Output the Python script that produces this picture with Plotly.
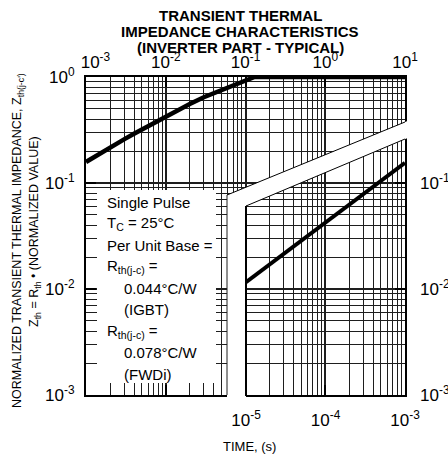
import plotly.graph_objects as go

# ---------------- data ----------------
main_t = [1e-3, 1.5e-3, 2e-3, 3e-3, 4e-3, 5e-3, 7e-3, 1e-2, 1.5e-2, 2e-2, 3e-2, 4e-2,
          5e-2, 7e-2, 0.1, 0.13, 1, 10]
main_z = [0.158, 0.191, 0.217, 0.258, 0.291, 0.319, 0.365, 0.42, 0.49, 0.555, 0.645, 0.705,
          0.758, 0.835, 0.915, 1.0, 1.0, 1.0]

inset_t = [1e-5, 3e-5, 1e-4, 3e-4, 1e-3]
inset_z = [0.0116, 0.0215, 0.042, 0.078, 0.155]

main_x_ticks = [1e-3, 1e-2, 1e-1, 1, 10]
main_x_text = ["\u00a0\u00a0\u00a0\u00a010<sup>-3</sup>", "10<sup>-2</sup>", "10<sup>-1</sup>",
               "10<sup>0</sup>", "10<sup>1</sup>"]
main_y_ticks = [1e-3, 1e-2, 1e-1, 1]
main_y_text = ["10<sup>-3</sup>", "10<sup>-2</sup>", "10<sup>-1</sup>", "10<sup>0</sup>"]
inset_x_ticks = [1e-5, 1e-4, 1e-3]
inset_x_text = ["10<sup>-5</sup>", "10<sup>-4</sup>", "10<sup>-3</sup>"]
inset_y_ticks = [1e-3, 1e-2, 1e-1]
inset_y_text = ["10<sup>-3</sup>", "10<sup>-2</sup>", "10<sup>-1</sup>"]

title_lines = ["TRANSIENT THERMAL", "IMPEDANCE CHARACTERISTICS", "(INVERTER PART - TYPICAL)"]
box_lines = [
    ("Single Pulse", 0), ("T<sub>C</sub> = 25°C", 0), ("Per Unit Base =", 0),
    ("R<sub>th(j-c)</sub> =", 0), ("0.044°C/W", 1), ("(IGBT)", 1),
    ("R<sub>th(j-c)</sub> =", 0), ("0.078°C/W", 1), ("(FWDi)", 1),
]

# ---------------- layout geometry (pixels) ----------------
W, H = 448, 456
L, R, T, B = 86, 405, 77, 395
FONT = "Liberation Sans, Arial, Helvetica, sans-serif"


def fx(px):
    return (px - L) / (R - L)


def fy(py):
    return (B - py) / (B - T)


inset_left = fx(246)


def minor_vals(d0, d1):
    out = []
    for d in range(d0, d1):
        for m in range(2, 10):
            out.append(m * 10 ** d)
    return out


fig = go.Figure()
fig.add_trace(go.Scatter(x=main_t, y=main_z, mode="lines",
                         line=dict(color="black", width=4.5), xaxis="x", yaxis="y",
                         showlegend=False, hoverinfo="skip"))
fig.add_trace(go.Scatter(x=inset_t, y=inset_z, mode="lines",
                         line=dict(color="black", width=4), xaxis="x2", yaxis="y2",
                         showlegend=False, hoverinfo="skip"))

grid_col = "#1e1e1e"
tickfont = dict(family=FONT, size=17, color="black")

fig.update_layout(
    width=W, height=H,
    margin=dict(l=L, r=W - R, t=T, b=H - B, pad=0, autoexpand=False),
    paper_bgcolor="white", plot_bgcolor="rgba(0,0,0,0)",
    font=dict(family=FONT, color="black"),
    showlegend=False,
    xaxis=dict(type="log", range=[-3, 1], side="top", domain=[0, 1], anchor="y",
               automargin=False,
               showline=True, linecolor="black", linewidth=2, mirror="ticks",
               ticks="inside", ticklen=10, tickwidth=2, tickcolor="black",
               tickvals=main_x_ticks, ticktext=main_x_text, tickfont=tickfont,
               showgrid=True, gridcolor=grid_col, gridwidth=1.6, zeroline=False,
               ticklabelstandoff=0,
               minor=dict(tickvals=minor_vals(-3, 1), showgrid=True,
                          gridcolor=grid_col, gridwidth=1, ticks="")),
    yaxis=dict(type="log", range=[-3, 0], domain=[0, 1], anchor="x",
               automargin=False,
               showline=True, linecolor="black", linewidth=2, mirror="ticks",
               ticks="inside", ticklen=10, tickwidth=2, tickcolor="black",
               tickvals=main_y_ticks, ticktext=main_y_text, tickfont=tickfont,
               showgrid=True, gridcolor=grid_col, gridwidth=1.6, zeroline=False,
               ticklabelstandoff=6,
               minor=dict(tickvals=minor_vals(-3, 0), showgrid=True,
                          gridcolor=grid_col, gridwidth=1, ticks="")),
    xaxis2=dict(type="log", range=[-5, -3], domain=[inset_left, 1], anchor="y2",
                automargin=False,
                side="bottom", showline=False, showgrid=False, zeroline=False,
                ticks="", tickvals=inset_x_ticks, ticktext=inset_x_text,
                tickfont=tickfont, ticklabelstandoff=13),
    yaxis2=dict(type="log", range=[-3, 0], domain=[0, 1], anchor="x2",
                automargin=False,
                overlaying="y", side="right", showline=False, showgrid=False,
                zeroline=False, ticks="", tickvals=inset_y_ticks,
                ticktext=inset_y_text, tickfont=tickfont, ticklabelstandoff=14),
)

shapes = []
# white text box over the grid
shapes.append(dict(type="rect", xref="paper", yref="paper",
                   x0=fx(97), x1=fx(216), y0=fy(383), y1=fy(190),
                   fillcolor="white", line=dict(width=0), layer="above"))
# white band separating the two time scales
up_x0, up_y0, up_y1 = 227, 195, 122
lo_x0, lo_y0, lo_y1 = 246, 206, 139
s_up = (up_y0 - up_y1) / (R - up_x0)
s_lo = (lo_y0 - lo_y1) / (R - lo_x0)
xe = R + 8
band = (f"M {fx(up_x0)},{fy(405)} L {fx(up_x0)},{fy(up_y0)} "
        f"L {fx(xe)},{fy(up_y1 - s_up * (xe - R))} "
        f"L {fx(xe)},{fy(lo_y1 - s_lo * (xe - R))} "
        f"L {fx(lo_x0)},{fy(lo_y0)} L {fx(lo_x0)},{fy(405)} Z")
shapes.append(dict(type="path", xref="paper", yref="paper", path=band,
                   fillcolor="white", line=dict(width=0), layer="above"))
shapes.append(dict(type="line", xref="paper", yref="paper",
                   x0=fx(up_x0), y0=fy(up_y0), x1=1, y1=fy(up_y1),
                   line=dict(color="black", width=1), layer="above"))
shapes.append(dict(type="line", xref="paper", yref="paper",
                   x0=fx(lo_x0), y0=fy(lo_y0), x1=1, y1=fy(lo_y1),
                   line=dict(color="black", width=1), layer="above"))
shapes.append(dict(type="line", xref="paper", yref="paper",
                   x0=fx(up_x0), y0=0, x1=fx(up_x0), y1=fy(up_y0),
                   line=dict(color=grid_col, width=1), layer="above"))
shapes.append(dict(type="line", xref="paper", yref="paper",
                   x0=fx(lo_x0), y0=fy(B + 1), x1=fx(lo_x0), y1=fy(lo_y0),
                   line=dict(color="black", width=2), layer="above"))
fig.update_layout(shapes=shapes)

ann = []
for i, (txt, cy) in enumerate(zip(title_lines, [16, 32, 48])):
    ann.append(dict(text=f"<b>{txt}</b>", x=fx(240), y=fy(cy), xref="paper", yref="paper",
                    xanchor="center", yanchor="middle", showarrow=False,
                    font=dict(family=FONT, size=15, color="black")))
for i, (txt, ind) in enumerate(box_lines):
    cy = 202 + i * 21.5
    ann.append(dict(text=txt, x=fx(122 if ind else 105), y=fy(cy), xref="paper", yref="paper",
                    xanchor="left", yanchor="middle", showarrow=False,
                    font=dict(family=FONT, size=15, color="black")))
ann.append(dict(text="NORMALIZED TRANSIENT THERMAL IMPEDANCE, Z<sub>th(j-c')</sub>",
                x=fx(18), y=fy(241), xref="paper", yref="paper", textangle=-90,
                xanchor="center", yanchor="middle", showarrow=False,
                font=dict(family=FONT, size=12.5, color="black")))
ann.append(dict(text="Z<sub>th</sub> = R<sub>th</sub> • (NORMALIZED VALUE)",
                x=fx(35), y=fy(232), xref="paper", yref="paper", textangle=-90,
                xanchor="center", yanchor="middle", showarrow=False,
                font=dict(family=FONT, size=12.5, color="black")))
ann.append(dict(text="TIME, (s)", x=fx(249), y=fy(446), xref="paper", yref="paper",
                xanchor="center", yanchor="middle", showarrow=False,
                font=dict(family=FONT, size=13, color="black")))
fig.update_layout(annotations=ann)

fig.write_html("out.html")
